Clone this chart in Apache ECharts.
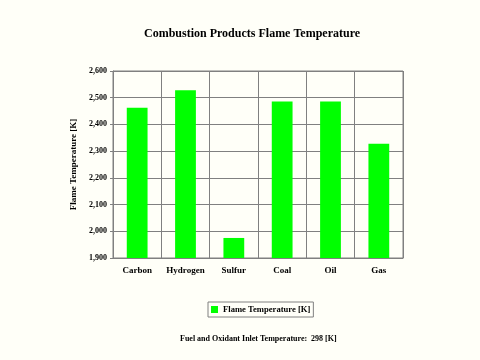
<!DOCTYPE html>
<html><head><meta charset="utf-8">
<script src="https://cdn.jsdelivr.net/npm/echarts@6/dist/echarts.min.js"></script>
<style>html,body{margin:0;padding:0;background:#fffff8;}#c{width:480px;height:360px;}</style>
</head><body><div id="c"></div>
<script>
var categories = ['Carbon', 'Hydrogen', 'Sulfur', 'Coal', 'Oil', 'Gas'];
var flameTemp = [2462, 2528, 1975, 2486, 2486, 2328];
var yTicks = [1900, 2000, 2100, 2200, 2300, 2400, 2500, 2600];

var font = '"Liberation Serif", "DejaVu Serif", serif';
var chart = echarts.init(document.getElementById('c'));
chart.setOption({
  backgroundColor: '#fffff8',
  animation: false,
  title: [{
    text: 'Combustion Products Flame Temperature',
    left: 139, top: 23,
    textStyle: {fontFamily: font, fontWeight: 'bold', fontSize: 12, color: '#000'}
  }, {
    text: 'Fuel and Oxidant Inlet Temperature:  298 [K]',
    left: 175, top: 330,
    textStyle: {fontFamily: font, fontWeight: 'bold', fontSize: 8, color: '#000'}
  }],
  legend: {
    data: ['Flame Temperature [K]'],
    left: 208, top: 302,
    itemWidth: 7, itemHeight: 7, itemGap: 3,
    padding: [3, 3],
    borderColor: '#808080', borderWidth: 1,
    textStyle: {fontFamily: font, fontWeight: 'bold', fontSize: 8.6, color: '#000'},
    icon: 'rect'
  },
  grid: {left: 113, right: 77, top: 71, bottom: 102, show: true, borderColor: '#808080', borderWidth: 1},
  xAxis: {
    type: 'category', data: categories,
    axisLine: {lineStyle: {color: '#808080'}},
    axisTick: {show: false},
    splitLine: {show: true, interval: 0, lineStyle: {color: '#808080', width: 1}},
    axisLabel: {interval: 0, fontFamily: font, fontWeight: 'bold', fontSize: 9, color: '#000', margin: 8}
  },
  yAxis: {
    type: 'value', min: yTicks[0], max: yTicks[yTicks.length - 1], interval: 100,
    name: 'Flame Temperature [K]', nameLocation: 'middle', nameGap: 34,
    nameTextStyle: {fontFamily: font, fontWeight: 'bold', fontSize: 9, color: '#000'},
    axisLine: {show: true, lineStyle: {color: '#808080'}},
    axisTick: {show: true, length: 3, lineStyle: {color: '#808080'}},
    splitLine: {show: true, lineStyle: {color: '#808080', width: 1}},
    axisLabel: {fontFamily: font, fontWeight: 'bold', fontSize: 8, color: '#000', margin: 6,
      formatter: function (v) { return v.toLocaleString('en-US'); }}
  },
  series: [{
    name: 'Flame Temperature [K]', type: 'bar', data: flameTemp,
    barWidth: '43%',
    itemStyle: {color: '#00ff00'}
  }]
});
</script></body></html>
